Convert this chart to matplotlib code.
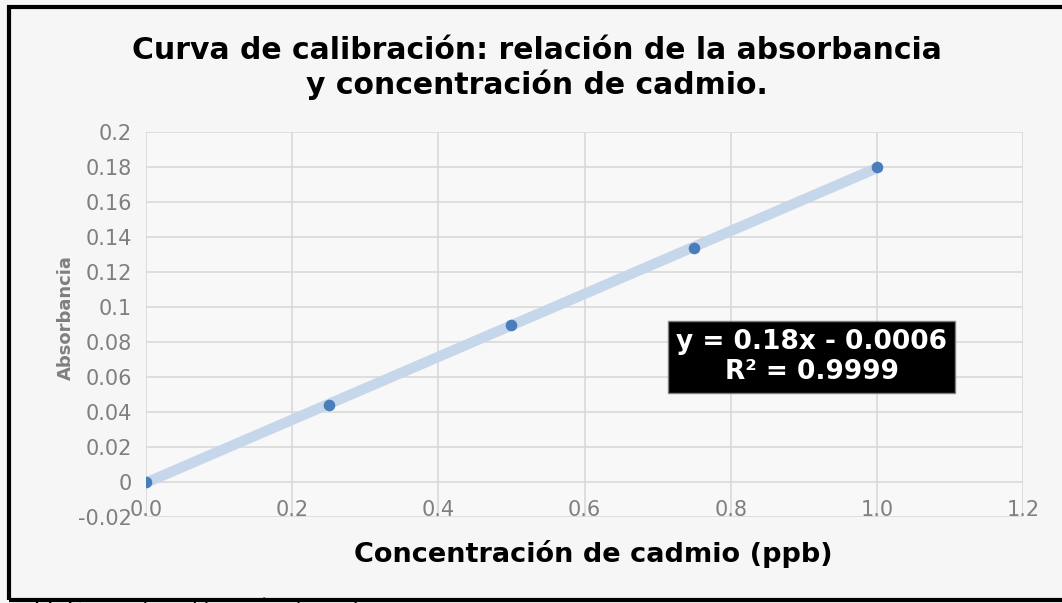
"""
Curva de calibración de cadmio (absorbancia vs concentración).
"""
import numpy as np
import matplotlib
matplotlib.use('Agg')
import matplotlib.pyplot as plt
from matplotlib.patches import Rectangle

plt.rcParams['font.family'] = ['DejaVu Sans']

# data
conc = [0.0, 0.25, 0.5, 0.75, 1.0]
absorb = [0.0, 0.044, 0.090, 0.1335, 0.180]
x_ticks = [0.0, 0.2, 0.4, 0.6, 0.8, 1.0, 1.2]
y_ticks = [-0.02, 0.0, 0.02, 0.04, 0.06, 0.08, 0.1, 0.12, 0.14, 0.16, 0.18, 0.2]
y_tick_labels = ['-0.02', '0', '0.02', '0.04', '0.06', '0.08', '0.1',
                 '0.12', '0.14', '0.16', '0.18', '0.2']
equation = 'y = 0.18x - 0.0006\nR² = 0.9999'

W, H = 1062, 603
fig = plt.figure(figsize=(W / 100, H / 100), dpi=100)
fig.patch.set_facecolor('#f6f6f6')

ax = fig.add_axes([146 / W, 1 - 517 / H, (1023 - 146) / W, (517 - 132) / H])
ax.set_facecolor('#f8f8f8')

# linear trendline
slope, icpt = np.polyfit(conc, absorb, 1)
xl = np.array([conc[0], conc[-1]])
ax.plot(xl, slope * xl + icpt, color='#c6d6eb', linewidth=7.5,
        solid_capstyle='butt', zorder=2)
ax.scatter(conc, absorb, s=70, color='#4a7ebb', zorder=3, linewidths=0)

ax.set_xlim(0, 1.2)
ax.set_ylim(-0.02, 0.2)
ax.set_xticks(x_ticks)
ax.set_xticklabels([f'{v:.1f}' for v in x_ticks])
ax.set_yticks(y_ticks)
ax.set_yticklabels(y_tick_labels)
ax.grid(True, color='#d9d9d9', linewidth=1.2)
ax.set_axisbelow(True)
for s in ax.spines.values():
    s.set_visible(False)
ax.tick_params(length=0, labelsize=15, colors='#7f7f7f')
ax.tick_params(axis='y', pad=10)
# x tick labels sit on the -0.02 line, like in Excel
for lab in ax.get_xticklabels():
    lab.set_y(0.03)
    lab.set_verticalalignment('center')

ax.set_xlabel('Concentración de cadmio (ppb)', fontsize=19.5, fontweight='bold',
              color='black')
ax.xaxis.set_label_coords(0.51, -0.06)
ax.xaxis.label.set_verticalalignment('top')
ax.set_ylabel('Absorbancia', fontsize=13, fontweight='bold', color='#7f7f7f')
ax.yaxis.set_label_coords(-0.081, 0.517)

ax.text(0.911, 0.0715, equation, ha='center', va='center', fontsize=19,
        fontweight='bold', color='white', linespacing=1.2,
        bbox=dict(boxstyle='square,pad=0.3', facecolor='black', edgecolor='#7f7f7f'))

fig.text(537 / W, 1 - 68 / H,
         'Curva de calibración: relación de la absorbancia\ny concentración de cadmio.',
         ha='center', va='center', fontsize=21.5, fontweight='bold', linespacing=1.15)

# outer frame and the clipped caption under it
fig.patches.append(Rectangle((9 / W, 1 - 600 / H), 1.2, (600 - 7) / H,
                             transform=fig.transFigure, fill=False,
                             edgecolor='black', linewidth=3, zorder=10))
fig.text(-14 / W, 1 - 599 / H, 'ura 22. Curva de calibración de cadmio.',
         ha='left', va='top', fontsize=15)

fig.savefig('out.png', dpi=100, facecolor=fig.get_facecolor())
